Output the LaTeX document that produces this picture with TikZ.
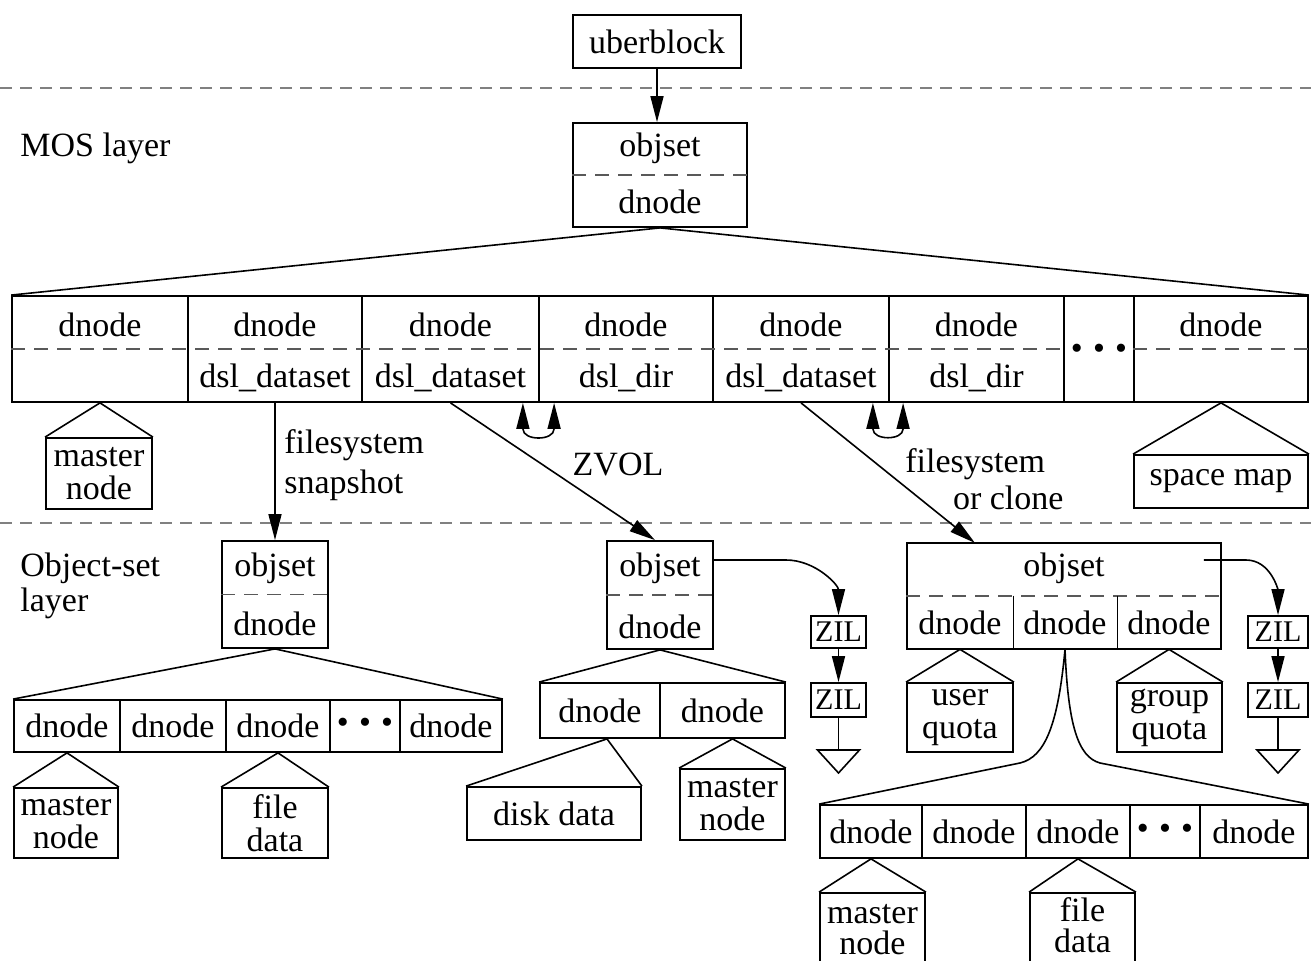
\documentclass[tikz,border=0pt]{standalone}
\usepackage{fontspec}
\setmainfont{Liberation Serif}
\usetikzlibrary{arrows.meta}
\newcommand{\diafont}{\fontsize{17}{16.5}\selectfont}
\newcommand{\zilfont}{\fontsize{15}{15}\selectfont}
\newcommand{\tripledot}{\textbullet\hspace{0.3em}\textbullet\hspace{0.3em}\textbullet}
\begin{document}
\begin{tikzpicture}
[
	x=0.5pt, y=-0.5pt,
	font=\diafont,
	spans/.style n args={4}{minimum width={(#3-#1)*0.5pt}, minimum height={(#4-#2)*0.5pt}, at={({(#1+#3)/2},{(#2+#4)/2})}},
	box/.style={draw, line width=0.9pt, inner sep=0pt, align=center},
	cell/.style={inner sep=0pt},
	part/.style={line width=0.8pt, gray!70!black, dash pattern=on 7pt off 4.5pt},
	layer/.style={line width=1pt, gray, dash pattern=on 6pt off 4pt},
	tree/.style={line width=0.8pt},
	link/.style={line width=0.8pt, -{Triangle[length=13pt,width=6.5pt]}},
	twin/.style={line width=0.8pt, {Triangle[length=13pt,width=6.5pt]}-{Triangle[length=13pt,width=6.5pt]}},
	zil/.style={box, font=\zilfont},
	txt/.style={inner sep=0pt, align=left}
]

	\useasboundingbox (0,0) rectangle (1311,961);
	\clip (0,0) rectangle (1311,961);

	% layers
	\draw[layer] (0,88) -- (1311,88);
	\draw[layer] (0,523) -- (1311,523);
	\node[txt, anchor=west] (moslbl) at (20,148) {MOS layer};
	\node[txt, anchor=west, font=\fontsize{17}{17.5}\selectfont] (oslbl) at (20,586) {Object-set\\layer};

	% uberblock and MOS objset
	\node[box, spans={573}{15}{741}{68}] (ub) {uberblock};
	\node[box, spans={573}{123}{747}{227}] (mos) {};
	\draw[part] (mos.west) -- (mos.east);
	\node[cell] (mostop) at (mos.center |- 0,148) {objset};
	\node[cell] (mosbot) at (mos.center |- 0,202) {dnode};
	\draw[link] (ub.south) -- (ub.south |- mos.north);

	% MOS dnodes
	\foreach \l/\r [count=\i] in {12/188, 188/362, 362/539, 539/713, 713/889, 889/1064, 1064/1134, 1134/1308}
		\node[box, spans={\l}{296}{\r}{402}] (m\i) {};
	\draw[tree] (m1.north west) -- (mos.south) -- (m8.north east);
	\draw[part] (m1.west) -- (m6.east);
	\draw[part] (m8.west) -- (m8.east);
	\foreach \i in {1,...,6,8}
		\node[cell] (mt\i) at (m\i.center |- 0,325) {dnode};
	\foreach \i/\s in {2/dsl\_dataset, 3/dsl\_dataset, 4/dsl\_dir, 5/dsl\_dataset, 6/dsl\_dir}
		\node[cell] (mb\i) at (m\i.center |- 0,378) {\s};
	\node[cell] (mdots) at (m7.center |- 0,352) {\tripledot};

	\node[box, spans={46}{438}{152}{509}] (mn1) {master\\node};
	\draw[tree] (mn1.north west) -- (m1.south) -- (mn1.north east);
	\node[box, spans={1134}{455}{1308}{508}] (sm) {space map};
	\draw[tree] (sm.north west) -- (m8.south) -- (sm.north east);

	% links down to the object sets
	\node[box, spans={222}{541}{328}{648}] (os1) {};
	\node[box, spans={607}{541}{713}{649}] (os2) {};
	\node[box, spans={907}{543}{1221}{649}] (os3) {};
	\coordinate (os3in) at (975,543);

	\draw[link] (m2.south) -- (os1.north);
	\node[txt, anchor=west, font=\fontsize{17}{20}\selectfont] (fslbl) at (284,465) {filesystem\\snapshot};
	\draw[link] (m3.south) -- ([xshift=-2.5pt]os2.north);
	\node[cell] (zvlbl) at (618,465) {ZVOL};
	\draw[link] (m5.south) -- (os3in);
	\node[txt, anchor=west, font=\fontsize{17}{18.5}\selectfont] (fclbl) at (905,479) {filesystem\\\hspace*{1.4em}or clone};

	\draw[twin] ([xshift=-8.5pt]m3.south east) -- ++(0,26) to[out=-90,in=-90] ([xshift=8pt,yshift=-13pt]m4.south west) -- ([xshift=8pt]m4.south west);
	\draw[twin] ([xshift=-8.5pt]m5.south east) -- ++(0,26) to[out=-90,in=-90] ([xshift=7.5pt,yshift=-13pt]m6.south west) -- ([xshift=7.5pt]m6.south west);

	% filesystem snapshot
	\draw[part] (os1.west) -- (os1.east);
	\node[cell] (os1t) at (os1.center |- 0,568) {objset};
	\node[cell] (os1b) at (os1.center |- 0,624) {dnode};
	\foreach \l/\r/\s [count=\i] in {14/120/dnode, 120/226/dnode, 226/330/dnode, 330/400/\tripledot, 400/502/dnode}
		\node[box, spans={\l}{700}{\r}{752}] (l\i) {\s};
	\draw[tree] (l1.north west) -- (os1.south) -- (l5.north east);
	\node[box, spans={14}{788}{118}{858}] (mn2) {master\\node};
	\draw[tree] (mn2.north west) -- (l1.south) -- (mn2.north east);
	\node[box, spans={222}{788}{328}{858}] (fd1) {file\\data};
	\draw[tree] (fd1.north west) -- (l3.south) -- (fd1.north east);

	% ZVOL
	\draw[part] (os2.west) -- (os2.east);
	\node[cell] (os2t) at (os2.center |- 0,568) {objset};
	\node[cell] (os2b) at (os2.center |- 0,627) {dnode};
	\node[zil, spans={811}{616}{866}{648}] (zil1) {ZIL};
	\node[zil, spans={811}{683}{866}{717}] (zil2) {ZIL};
	\draw[link] ([yshift=17.5pt]os2.east) -- ++(72,0) to[out=0,in=90] (zil1.north);
	\draw[link] (zil1) -- (zil2);
	\coordinate (gnd1) at (838.5,750);
	\draw[tree] (zil2.south) -- (gnd1);
	\draw[tree] ([xshift=-10.5pt]gnd1) -- ([xshift=10.5pt]gnd1) -- ([yshift=-11.5pt]gnd1) -- cycle;

	\node[box, spans={540}{683}{660}{738}] (c1) {dnode};
	\node[box, spans={660}{683}{785}{738}] (c2) {dnode};
	\draw[tree] (c1.north west) -- (os2.south) -- (c2.north east);
	\node[box, spans={467}{787}{641}{840}] (dd) {disk data};
	\draw[tree] (dd.north west) -- ([xshift=3.5pt]c1.south) -- (dd.north east);
	\node[box, spans={680}{769}{785}{840}] (mn3) {master\\node};
	\draw[tree] (mn3.north west) -- (mn3.north |- c2.south) -- (mn3.north east);

	% filesystem or clone
	\draw[part] (os3.west) -- (os3.east);
	\node[cell] (os3t) at (os3.center |- 0,568) {objset};
	\foreach \l/\r [count=\i] in {907/1013, 1013/1117, 1117/1221}
		\node[cell, spans={\l}{596}{\r}{649}] (r\i) {dnode};
	\draw[line width=0.9pt] (r1.north east) -- (r1.south east);
	\draw[line width=0.9pt] (r2.north east) -- (r2.south east);
	\node[zil, spans={1248}{616}{1308}{648}] (zil3) {ZIL};
	\node[zil, spans={1248}{683}{1308}{717}] (zil4) {ZIL};
	\draw[link] ([xshift=-9pt,yshift=18pt]os3.east) -- ++(42,0) to[out=0,in=90] (zil3.north);
	\draw[link] (zil3) -- (zil4);
	\coordinate (gnd2) at (1278,750);
	\draw[tree] (zil4.south) -- (gnd2);
	\draw[tree] ([xshift=-10.5pt]gnd2) -- ([xshift=10.5pt]gnd2) -- ([yshift=-11.5pt]gnd2) -- cycle;

	\node[box, spans={907}{683}{1013}{752}] (uq) {user\\quota};
	\draw[tree] (uq.north west) -- (r1.south) -- (uq.north east);
	\node[box, spans={1117}{683}{1222}{752}] (gq) {group\\quota};
	\draw[tree] (gq.north west) -- (r3.south) -- (gq.north east);

	\foreach \l/\r/\s [count=\i] in {820/922/dnode, 922/1026/dnode, 1026/1130/dnode, 1130/1200/\tripledot, 1200/1308/dnode}
		\node[box, spans={\l}{805}{\r}{858}] (b\i) {\s};
	\draw[tree] (b1.north west) -- (1020,763) .. controls (1045,757) and (1058,725) .. (r2.south) .. controls (1068,725) and (1078,757) .. (1100,763) -- (b5.north east);
	\node[box, spans={820}{893}{925}{966}, font=\fontsize{17}{15.5}\selectfont] (mn4) {master\\node};
	\draw[tree] (mn4.north west) -- (b1.south) -- (mn4.north east);
	\node[box, spans={1030}{893}{1135}{970}, text depth=6pt, font=\fontsize{17}{15.5}\selectfont] (fd2) {file\\data};
	\draw[tree] (fd2.north west) -- (b3.south) -- (fd2.north east);

\end{tikzpicture}
\end{document}
